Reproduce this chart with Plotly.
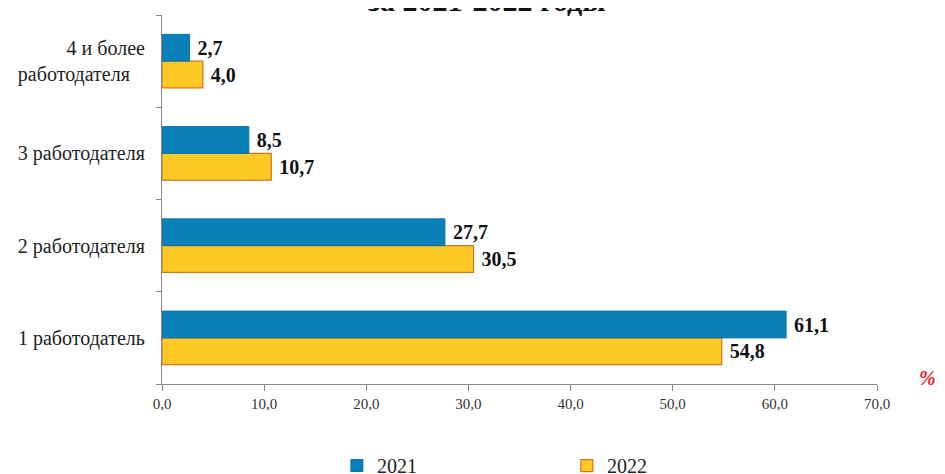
import plotly.graph_objects as go

categories = ["1 работодатель", "2 работодателя", "3 работодателя", "4 и более<br>работодателя\u00a0\u00a0\u00a0"]
values_2021 = [61.1, 27.7, 8.5, 2.7]
values_2022 = [54.8, 30.5, 10.7, 4.0]
x_ticks = [0, 10, 20, 30, 40, 50, 60, 70]

FONT = "Liberation Serif, Times New Roman, serif"

fig = go.Figure()
fig.add_trace(go.Bar(
    name="2022", y=categories, x=values_2022, orientation="h",
    marker=dict(color="#FFC926", line=dict(color="#D9731A", width=1.2)),
    text=values_2022, texttemplate="\u00a0%{x:.1f}", textposition="outside",
    textfont=dict(family=FONT, size=20, color="#111111", weight="bold"),
    cliponaxis=False,
))
fig.add_trace(go.Bar(
    name="2021", y=categories, x=values_2021, orientation="h",
    marker=dict(color="#0A80B8", line=dict(color="#0A74A8", width=1)),
    text=values_2021, texttemplate="\u00a0%{x:.1f}", textposition="outside",
    textfont=dict(family=FONT, size=20, color="#111111", weight="bold"),
    cliponaxis=False,
))

# page body adds an 8px offset, so the figure is 8px smaller than the window
fig.update_layout(
    width=937, height=466,
    margin=dict(l=154, r=68, t=7, b=90),
    paper_bgcolor="white", plot_bgcolor="white",
    separators=", ",
    barmode="group", bargap=0.42, bargroupgap=0,
    font=dict(family=FONT, color="#222222"),
    legend=dict(orientation="h", traceorder="reversed",
                xref="container", x=0.351, xanchor="left",
                yref="container", y=0.060, yanchor="top",
                entrywidth=185, entrywidthmode="pixels",
                font=dict(family=FONT, size=20, color="#222222"),
                itemwidth=30),
    showlegend=True,
    annotations=[
        dict(text="<b>за 2021-2022 годы</b>", xref="paper", yref="paper",
             x=0.4545, y=0.989, xanchor="center", yanchor="bottom",
             showarrow=False, font=dict(family=FONT, size=30, color="#111111")),
        dict(text="<i><b>%</b></i>", xref="paper", yref="paper",
             x=1.086, y=0.016, xanchor="right", yanchor="middle",
             showarrow=False, font=dict(family=FONT, size=20, color="#E8202A")),
    ],
)

fig.update_xaxes(
    range=[0, 70], tickvals=x_ticks, tickformat=".1f",
    showline=True, linecolor="#888888", linewidth=1.2,
    ticks="outside", ticklen=6, tickcolor="#888888",
    showgrid=False, zeroline=False, automargin=False,
    tickfont=dict(family=FONT, size=15, color="#333333"),
)
fig.update_yaxes(
    showline=True, linecolor="#888888", linewidth=1.2,
    ticks="outside", ticklen=5, tickcolor="#888888", tickson="boundaries",
    showgrid=False, ticklabelstandoff=12, automargin=False,
    tickfont=dict(family=FONT, size=20, color="#222222"),
)

fig.write_html("out.html")
